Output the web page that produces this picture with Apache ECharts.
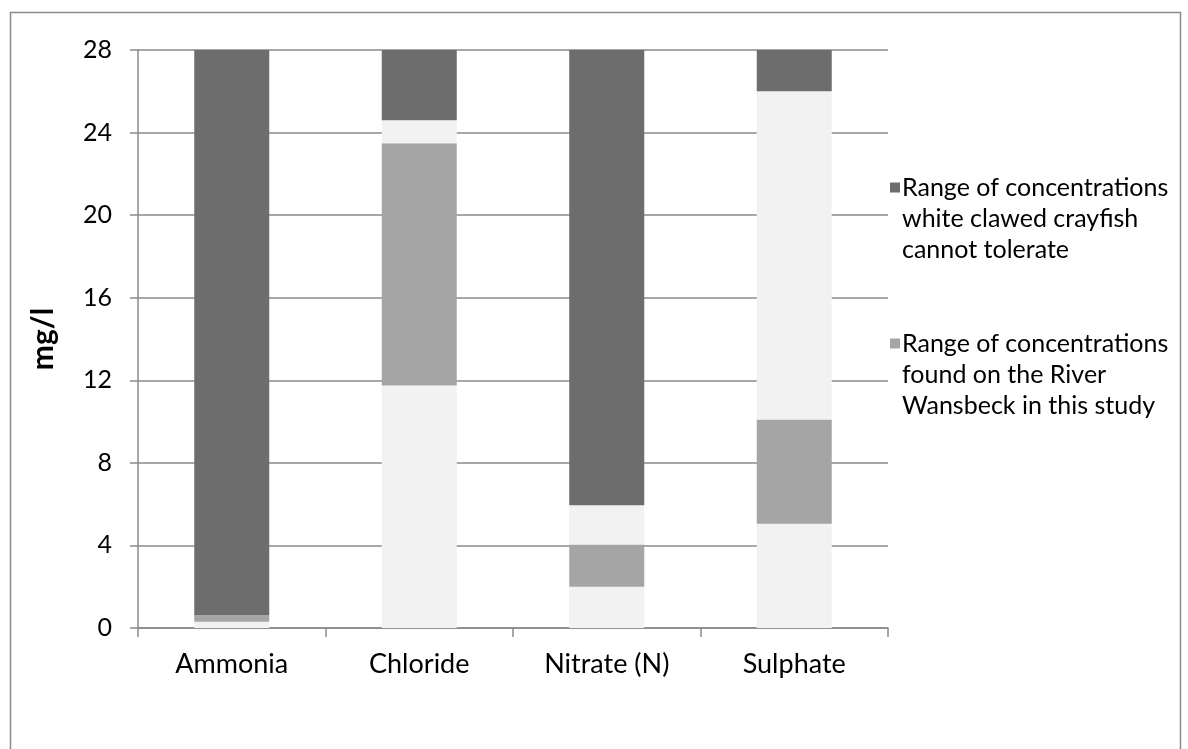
<!DOCTYPE html>
<html>
<head>
<meta charset="utf-8">
<script src="https://cdn.jsdelivr.net/npm/echarts@6/dist/echarts.min.js"></script>
<style>
html,body{margin:0;padding:0;background:#fff;}
#chart{width:1188px;height:749px;}
</style>
</head>
<body>
<div id="chart"></div>
<script>
var categories = ['Ammonia', 'Chloride', 'Nitrate (N)', 'Sulphate'];
// stacked segments, bottom to top
var belowFound   = [0.3, 11.75, 2.0, 5.05];   // light base (not in legend)
var foundRange   = [0.32, 11.73, 2.05, 5.05]; // range found on the River Wansbeck
var gapValues    = [0, 1.12, 1.9, 15.9];      // light gap (not in legend)
var notTolerated = [27.38, 3.4, 22.05, 2.0];  // range crayfish cannot tolerate
var yTicks = [0, 4, 8, 12, 16, 20, 24, 28];
var nameDark = 'Range of concentrations white clawed crayfish cannot tolerate';
var nameMid = 'Range of concentrations found on the River Wansbeck in this study';
var legendLines = {};
legendLines[nameDark] = ['Range of concentrations', 'white clawed crayfish', 'cannot tolerate'];
legendLines[nameMid] = ['Range of concentrations', 'found on the River', 'Wansbeck in this study'];

var FONT = 'Lato';
var chart = echarts.init(document.getElementById('chart'), null, {renderer: 'canvas'});
var axisColor = '#8a8a8a';
chart.setOption({
  backgroundColor: '#ffffff',
  animation: false,
  textStyle: {fontFamily: FONT, color: '#000'},
  graphic: [{
    type: 'rect', left: 8, top: 10, silent: true,
    shape: {width: 1170, height: 760},
    style: {fill: 'none', stroke: '#8a8a8a', lineWidth: 1.5}
  }],
  grid: {left: 138, right: 300, top: 50, bottom: 121, containLabel: false},
  legend: {
    orient: 'vertical', left: 890, top: 172, padding: 0,
    itemWidth: 10, itemHeight: 72, itemGap: 63,
    icon: 'path://M0,0h10v10h-10zM0,72',
    data: [nameDark, nameMid],
    formatter: function (n) { return legendLines[n].join('\n'); },
    textStyle: {fontFamily: FONT, fontSize: 25, lineHeight: 31, color: '#000', padding: [0,0,0,-3]}
  },
  xAxis: {
    type: 'category', data: categories,
    axisLine: {lineStyle: {color: axisColor, width: 1.5}},
    axisTick: {show: true, length: 9, lineStyle: {color: axisColor, width: 1.5}},
    axisLabel: {fontFamily: FONT, fontSize: 27, color: '#000', margin: 23}
  },
  yAxis: {
    type: 'value', min: yTicks[0], max: yTicks[yTicks.length - 1], interval: yTicks[1] - yTicks[0],
    name: 'mg/l', nameLocation: 'middle', nameGap: 80,
    nameTextStyle: {fontFamily: FONT, fontSize: 30, fontWeight: 'bold', color: '#000'},
    axisLine: {show: true, lineStyle: {color: axisColor, width: 1.5}},
    axisTick: {show: true, length: 8, lineStyle: {color: axisColor, width: 1.5}},
    axisLabel: {fontFamily: FONT, fontSize: 25, color: '#000', margin: 26},
    splitLine: {show: true, lineStyle: {color: axisColor, width: 1.5}}
  },
  series: [
    {name: 'below', type: 'bar', stack: 's', data: belowFound, barWidth: '40%', itemStyle: {color: '#f2f2f2'}},
    {name: nameMid, type: 'bar', stack: 's', data: foundRange, itemStyle: {color: '#a5a5a5'}},
    {name: 'gap', type: 'bar', stack: 's', data: gapValues, itemStyle: {color: '#f2f2f2'}},
    {name: nameDark, type: 'bar', stack: 's', data: notTolerated, itemStyle: {color: '#6d6d6d'}}
  ]
});
</script>
</body>
</html>
